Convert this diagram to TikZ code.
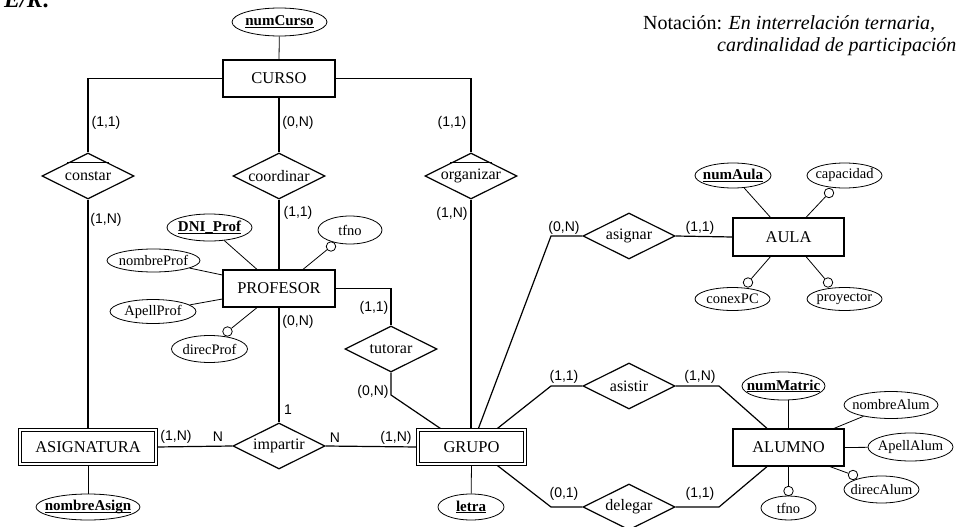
\documentclass[tikz,border=0pt]{standalone}
\usepackage{fontspec}
\setmainfont{Liberation Serif}
\newfontfamily\labfont{Liberation Sans}
\usetikzlibrary{shapes.geometric,backgrounds}
\newcommand\keyu[1]{\setbox0\hbox{#1}\rlap{\rule[-2.4pt]{\wd0}{1.3pt}}\box0}
\begin{document}
\begin{tikzpicture}[x=1pt,y=-1pt,
  ent/.style={draw, line width=1.2pt, rectangle, inner sep=0pt, minimum width=112pt, minimum height=37pt, font=\fontsize{16.5}{18}\selectfont},
  weakent/.style={draw, double, double distance=2.2pt, line width=0.9pt, inner sep=0pt, minimum height=34pt, font=\fontsize{16.5}{18}\selectfont},
  rel/.style={draw, diamond, aspect=2, line width=1.2pt, inner sep=0pt, minimum width=92pt, minimum height=46pt, font=\fontsize{16}{18}\selectfont},
  attr/.style={draw, ellipse, line width=0.8pt, inner sep=0pt, font=\fontsize{14.5}{16}\selectfont},
  keyattr/.style={attr, font=\fontsize{15}{16}\selectfont\bfseries},
  opt/.style={draw, circle, line width=0.8pt, fill=white, inner sep=0pt, minimum size=9.5pt},
  card/.style={inner sep=0pt, font=\labfont\fontsize{14}{15}\selectfont},
  conn/.style={line width=1.2pt},
  aconn/.style={line width=0.8pt}
]
\useasboundingbox (0,0) rectangle (977,527);

% title fragment and notation
\node[anchor=base west, inner sep=0pt, font=\fontsize{24}{26}\selectfont\bfseries\itshape] (title) at (4,8) {E/R:};
\node[anchor=base west, inner sep=0pt, font=\fontsize{20}{22}\selectfont] (nota1) at (643,30) {Notación: \textit{En interrelación ternaria,}};
\node[anchor=base west, inner sep=0pt, font=\fontsize{20}{22}\selectfont\itshape] (nota2) at (717,52) {cardinalidad de participación};

% entities
\node[ent] (curso) at (279,78.5) {CURSO};
\node[ent] (profesor) at (279,288.5) {PROFESOR};
\node[ent, minimum width=111pt, minimum height=38pt] (aula) at (788.5,237) {AULA};
\node[ent, minimum width=111pt] (alumno) at (788.5,447.5) {ALUMNO};
\node[weakent, minimum width=136pt] (asignatura) at (88,447) {ASIGNATURA};
\node[weakent, minimum width=107pt] (grupo) at (471.5,447) {GRUPO};

% relationships
\node[rel] (constar) at (88,176) {constar};
\node[rel] (coordinar) at (279,176) {coordinar};
\node[rel] (organizar) at (471,176) {organizar};
\node[rel] (tutorar) at (391,349) {tutorar};
\node[rel] (impartir) at (279,446) {impartir};
\node[rel] (asignar) at (629,236) {asignar};
\node[rel] (asistir) at (629,386) {asistir};
\node[rel] (delegar) at (629,507) {delegar};

\draw[conn] ([xshift=-20.7pt,yshift=-10pt]constar.north) -- ([xshift=20.7pt,yshift=-10pt]constar.north);
\draw[conn] ([xshift=-20.7pt,yshift=-10pt]organizar.north) -- ([xshift=20.7pt,yshift=-10pt]organizar.north);

% attributes
\node[keyattr, minimum width=95pt, minimum height=28pt] (numcurso) at (279.5,22) {\makebox[0pt]{\keyu{numCurso}}};
\node[keyattr, minimum width=85pt, minimum height=27pt] (dniprof) at (209.5,227.5) {\makebox[0pt]{\keyu{DNI\_Prof}}};
\node[attr, minimum width=93pt, minimum height=23pt] (nombreprof) at (153.5,260.5) {\makebox[0pt]{nombreProf}};
\node[attr, minimum width=86pt, minimum height=24pt] (apellprof) at (153,311.5) {\makebox[0pt]{ApellProf}};
\node[attr, minimum width=76pt, minimum height=27pt] (direcprof) at (209.5,349) {\makebox[0pt]{direcProf}};
\node[attr, minimum width=64pt, minimum height=28pt] (tfnop) at (350,230) {\makebox[0pt]{tfno}};
\node[keyattr, minimum width=104pt, minimum height=26pt] (nombreasign) at (88,507) {\makebox[0pt]{\keyu{nombreAsign}}};
\node[keyattr, minimum width=66pt, minimum height=26pt] (letra) at (471,507) {\makebox[0pt]{\keyu{letra}}};
\node[keyattr, minimum width=76pt, minimum height=25pt] (numaula) at (733,175.5) {\makebox[0pt]{\keyu{numAula}}};
\node[attr, minimum width=75pt, minimum height=25pt] (capacidad) at (844.5,175.5) {\makebox[0pt]{capacidad}};
\node[attr, minimum width=75pt, minimum height=23pt] (conexpc) at (732.5,299) {\makebox[0pt]{conexPC}};
\node[attr, minimum width=75pt, minimum height=23pt] (proyector) at (844.5,299) {\makebox[0pt]{proyector}};
\node[keyattr, minimum width=83pt, minimum height=28pt] (nummatric) at (783.5,386) {\makebox[0pt]{\keyu{numMatric}}};
\node[attr, minimum width=94pt, minimum height=27pt] (nombrealum) at (891,405) {\makebox[0pt]{nombreAlum}};
\node[attr, minimum width=85pt, minimum height=28pt] (apellalum) at (910.5,447) {\makebox[0pt]{ApellAlum}};
\node[attr, minimum width=75pt, minimum height=27pt] (direcalum) at (881.5,489.5) {\makebox[0pt]{direcAlum}};
\node[attr, minimum width=55pt, minimum height=24pt] (tfnoa) at (788.5,508) {\makebox[0pt]{tfno}};

% optional-attribute circles
\node[opt] (odirecp) at (227.5,331.5) {};
\node[opt] (otfnop) at (331,246.5) {};
\node[opt] (ocap) at (829,193) {};
\node[opt] (oconex) at (748,282.5) {};
\node[opt] (oproy) at (828,282.5) {};
\node[opt] (odireca) at (853,475) {};
\node[opt] (otfnoa) at (788.5,491) {};

% bend points
\coordinate (bt) at (391,395);
\coordinate (ba) at (551,236);
\coordinate (bs) at (551,386);
\coordinate (bd) at (551,507);
\coordinate (bsa) at (719,386);
\coordinate (bda) at (719,507);

% cardinalities
\node[card] (k1) at (106,123) {(1,1)};
\node[card] (k2) at (106,220) {(1,N)};
\node[card] (k3) at (298,123) {(0,N)};
\node[card] (k4) at (298,213) {(1,1)};
\node[card] (k5) at (452,123) {(1,1)};
\node[card] (k6) at (452,214) {(1,N)};
\node[card] (k7) at (374,308) {(1,1)};
\node[card] (k8) at (373,392) {(0,N)};
\node[card] (k9) at (298,322) {(0,N)};
\node[card] (k10) at (288,410) {1};
\node[card] (k11) at (176,437) {(1,N)};
\node[card] (k12) at (218,437) {N};
\node[card] (k13) at (335,438) {N};
\node[card] (k14) at (396,438) {(1,N)};
\node[card] (k15) at (564,228) {(0,N)};
\node[card] (k16) at (700,228) {(1,1)};
\node[card] (k17) at (564,377) {(1,1)};
\node[card] (k18) at (700,377) {(1,N)};
\node[card] (k19) at (564,494) {(0,1)};
\node[card] (k20) at (700,494) {(1,1)};

\begin{pgfonlayer}{background}
% relationship connectors
\draw[conn] (curso.west) -| (constar.north);
\draw[conn] (curso.south) -- (coordinar.north);
\draw[conn] (curso.east) -| (organizar.north);
\draw[conn] (constar.south) -- (asignatura.north);
\draw[conn] (coordinar.south) -- (profesor.north);
\draw[conn] (organizar.south) -- (organizar.south |- grupo.north);
\draw[conn] (profesor.east) -| (tutorar.north);
\draw[conn] (tutorar.south) -- (bt) -- ([xshift=-29.5pt]grupo.north);
\draw[conn] (profesor.south) -- (impartir.north);
\draw[conn] (asignatura.east) -- (impartir.west);
\draw[conn] (impartir.east) -- (grupo.west);
\draw[conn] ([xshift=6.5pt]grupo.north) -- (ba) -- (asignar.west);
\draw[conn] (asignar.east) -- (aula.west);
\draw[conn] ([xshift=24.5pt]grupo.north) -- (bs) -- (asistir.west);
\draw[conn] (asistir.east) -- (bsa) -- ([xshift=-21.5pt]alumno.north);
\draw[conn] ([xshift=24.5pt]grupo.south) -- (bd) -- (delegar.west);
\draw[conn] (delegar.east) -- (bda) -- ([xshift=-21.5pt]alumno.south);
% attribute connectors
\draw[aconn] (numcurso) -- (curso.north);
\draw[aconn] (dniprof) -- ([xshift=-22pt]profesor.north);
\draw[aconn] (nombreprof) -- ([yshift=13.5pt]profesor.west);
\draw[aconn] (apellprof) -- ([yshift=-10.5pt]profesor.west);
\draw[aconn] (odirecp) -- ([xshift=-22pt]profesor.south);
\draw[aconn] (otfnop) -- ([xshift=24pt]profesor.north);
\draw[aconn] (asignatura.south) -- (nombreasign);
\draw[aconn] (grupo.south) -- (letra);
\draw[aconn] (numaula) -- ([xshift=-18pt]aula.north);
\draw[aconn] (ocap) -- ([xshift=17.5pt]aula.north);
\draw[aconn] (oconex) -- ([xshift=-18pt]aula.south);
\draw[aconn] (oproy) -- ([xshift=17.5pt]aula.south);
\draw[aconn] (alumno.north) -- (alumno.north |- nummatric.south);
\draw[aconn] (nombrealum) -- ([xshift=45.5pt]alumno.north);
\draw[aconn] (apellalum) -- (alumno.east);
\draw[aconn] (odireca) -- ([xshift=41.5pt]alumno.south);
\draw[aconn] (otfnoa) -- (alumno.south);
\end{pgfonlayer}
\end{tikzpicture}
\end{document}
